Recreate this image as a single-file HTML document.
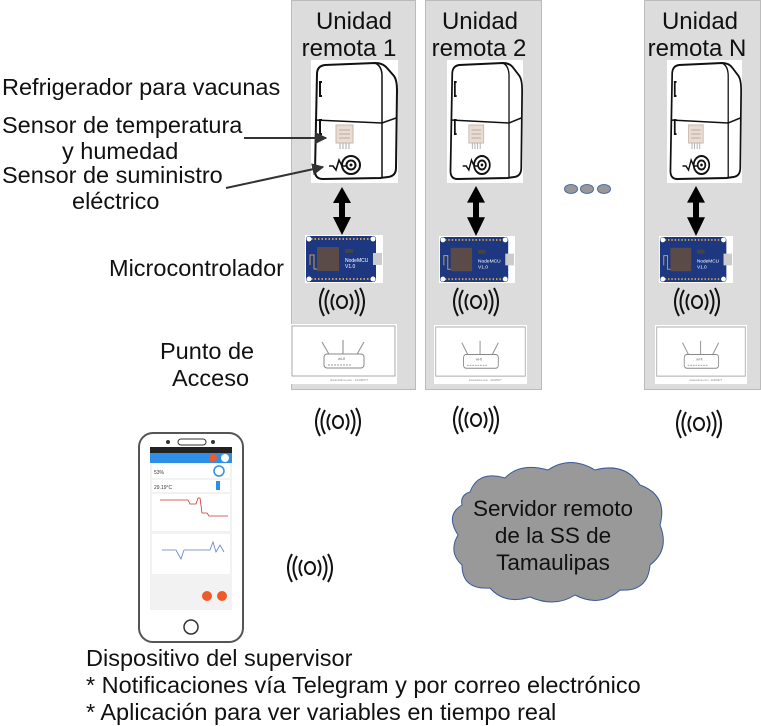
<!DOCTYPE html>
<html><head><meta charset="utf-8"><style>
html,body{margin:0;padding:0;background:#fff}
svg{display:block}
text{font-family:"Liberation Sans",sans-serif}
</style></head><body>
<svg width="761" height="726" viewBox="0 0 761 726" xmlns="http://www.w3.org/2000/svg">
<defs>
<symbol id="fridge" viewBox="0 0 87 123" preserveAspectRatio="none">
<rect width="87" height="123" fill="#fff"/>
<path d="M6 14 Q6 6 14 5 L64 3 Q72 3 76 8 L83 16 Q86 20 86 30 L85 108 Q85 116 77 117 L69 118 L12 119 Q4 119 4 111 Z" fill="#fff" stroke="#111" stroke-width="2"/>
<path d="M64 3 Q71 6 71 16 L71 118" fill="none" stroke="#111" stroke-width="1.5"/>
<path d="M4 60 L71 63 L85 58" fill="none" stroke="#111" stroke-width="1.5"/>
<path d="M11 22 L9 22 L9 36 L11 36" fill="none" stroke="#111" stroke-width="2"/>
<path d="M11 60 L9 60 L9 74 L11 74" fill="none" stroke="#111" stroke-width="2"/>
<rect x="25" y="65" width="17" height="18" fill="#e8ddd3" stroke="#c9b8a8"/>
<path d="M28 70h11M28 74h11M28 78h11" stroke="#bfa89a" stroke-width="1"/>
<path d="M29 83v6M32 83v6M35 83v6M38 83v6" stroke="#aaa" stroke-width="1"/>
<circle cx="40" cy="105" r="9" fill="none" stroke="#111" stroke-width="2"/>
<circle cx="40" cy="105" r="4.5" fill="none" stroke="#111" stroke-width="2"/>
<circle cx="40" cy="105" r="1.5" fill="#111"/>
<path d="M18 106 L22 106 L25 110 L28 100 L31 106 L35 106" fill="none" stroke="#111" stroke-width="1.6"/>
</symbol>
<symbol id="board" viewBox="0 0 78 48" preserveAspectRatio="none">
<rect width="78" height="48" fill="#fff"/>
<rect x="1" y="1" width="70" height="46" rx="3" fill="#1d3780"/>
<rect x="68" y="18" width="9" height="12" fill="#ccc"/>
<path d="M6 4h60M6 44h60" stroke="#c8a04a" stroke-width="2" stroke-dasharray="1.5 2"/>
<circle cx="4" cy="4" r="2.5" fill="#fff"/><circle cx="68" cy="4" r="2.5" fill="#fff"/>
<circle cx="4" cy="44" r="2.5" fill="#fff"/><circle cx="68" cy="44" r="2.5" fill="#fff"/>
<rect x="12" y="12" width="22" height="24" fill="#5a4a48"/>
<path d="M5 30v-10h4v14h3" fill="none" stroke="#c8a04a" stroke-width="1"/>
<text x="40" y="27" font-size="5" fill="#fff">NodeMCU</text>
<text x="40" y="33" font-size="5" fill="#fff">V1.0</text>
<rect x="40" y="14" width="8" height="4" fill="#444"/>
</symbol>
<symbol id="router" viewBox="0 0 107 60" preserveAspectRatio="none">
<rect width="107" height="60" fill="#fff"/>
<rect x="2" y="2" width="103" height="50" fill="none" stroke="#aaa"/>
<path d="M40 32 L32 18 M53 32 L53 16 M66 32 L74 18" stroke="#999" stroke-width="1.2"/>
<rect x="34" y="30" width="40" height="14" rx="3" fill="#fff" stroke="#888"/>
<text x="48" y="36" font-size="4" fill="#666">wi-fi</text>
<path d="M38 41h24" stroke="#999" stroke-dasharray="2 1"/>
<text x="40" y="57" font-size="3" fill="#888">dreamstime.com - 12345677</text>
</symbol>
<symbol id="wifi" viewBox="0 0 46 30">
<g fill="none" stroke="#111" stroke-width="2">
<ellipse cx="23" cy="15" rx="5" ry="6"/>
<path d="M15 7 Q10 15 15 23 M31 7 Q36 15 31 23"/>
<path d="M10 3 Q3 15 10 27 M36 3 Q43 15 36 27"/>
<path d="M5 1 Q-3 15 5 29 M41 1 Q49 15 41 29"/>
</g>
</symbol>
<symbol id="darr" viewBox="0 0 20 48" preserveAspectRatio="none">
<path d="M10 0 L19 16 L13 16 L13 30 L19 30 L10 48 L1 30 L7 30 L7 16 L1 16 Z" fill="#000"/>
</symbol>
<marker id="ah" viewBox="0 0 10 10" refX="9" refY="5" markerWidth="6" markerHeight="6" orient="auto"><path d="M0 0L10 5L0 10Z" fill="#333"/></marker>
</defs>

<rect x="291.5" y="0.5" width="124" height="389" fill="#dcdcdc" stroke="#bbb"/>
<rect x="425.5" y="0.5" width="116" height="389" fill="#dcdcdc" stroke="#bbb"/>
<rect x="644.5" y="0.5" width="116" height="389" fill="#dcdcdc" stroke="#bbb"/>

<g font-size="24" fill="#111" text-anchor="middle">
<text x="354" y="29">Unidad</text><text x="349" y="56">remota 1</text>
<text x="480" y="29">Unidad</text><text x="479" y="56">remota 2</text>
<text x="700" y="29">Unidad</text><text x="697" y="56">remota N</text>
</g>

<use href="#fridge" x="311" y="60" width="87" height="123"/>
<use href="#fridge" x="447" y="60" width="76" height="123"/>
<use href="#fridge" x="667" y="60" width="75" height="123"/>

<use href="#darr" x="332" y="187" width="20" height="48"/>
<use href="#darr" x="466" y="186" width="20" height="50"/>
<use href="#darr" x="686" y="186" width="20" height="50"/>

<use href="#board" x="305" y="235" width="78" height="48"/>
<use href="#board" x="439" y="236" width="76" height="47"/>
<use href="#board" x="659" y="236" width="74" height="47"/>

<use href="#wifi" x="319" y="287" width="46" height="30"/>
<use href="#wifi" x="453" y="287" width="46" height="30"/>
<use href="#wifi" x="674" y="287" width="46" height="30"/>

<use href="#router" x="290" y="324" width="107" height="60"/>
<use href="#router" x="434" y="325" width="93" height="59"/>
<use href="#router" x="655" y="325" width="92" height="59"/>

<use href="#wifi" x="315" y="407" width="46" height="30"/>
<use href="#wifi" x="453" y="405" width="46" height="30"/>
<use href="#wifi" x="676" y="409" width="46" height="30"/>
<use href="#wifi" x="287" y="553" width="46" height="30"/>

<g fill="#999" stroke="#4a6aa8" stroke-width="1">
<ellipse cx="571" cy="189" rx="6.5" ry="4.5"/><ellipse cx="587" cy="189" rx="6.5" ry="4.5"/><ellipse cx="604" cy="189" rx="6.5" ry="4.5"/>
</g>

<g font-size="23.5" fill="#111">
<text x="2" y="95">Refrigerador para vacunas</text>
<text x="2" y="133">Sensor de temperatura</text>
<text x="62" y="159">y humedad</text>
<text x="2" y="183">Sensor de suministro</text>
<text x="72" y="209">eléctrico</text>
<text x="109" y="276">Microcontrolador</text>
<text x="160" y="359">Punto de</text>
<text x="172" y="386">Acceso</text>
<text x="86" y="666">Dispositivo del supervisor</text>
<text x="86" y="693">* Notificaciones vía Telegram y por correo electrónico</text>
<text x="86" y="720">* Aplicación para ver variables en tiempo real</text>
</g>
<line x1="244" y1="138" x2="326" y2="138" stroke="#333" stroke-width="2" marker-end="url(#ah)"/>
<line x1="226" y1="188" x2="323" y2="167" stroke="#333" stroke-width="2" marker-end="url(#ah)"/>

<path d="M470 492 Q478 470 505 478 Q520 462 548 470 Q570 455 595 470 Q625 462 640 485 Q668 495 660 525 Q670 550 650 565 Q648 592 620 590 Q600 608 575 595 Q555 608 530 597 Q505 605 490 588 Q462 590 462 565 Q448 552 458 535 Q445 515 462 505 Q460 495 470 492 Z" fill="#999" stroke="#3a5a9a" stroke-width="1"/>
<g font-size="22.5" fill="#111" text-anchor="middle">
<text x="553" y="516">Servidor remoto</text>
<text x="553" y="543">de la SS de</text>
<text x="553" y="570">Tamaulipas</text>
</g>

<rect x="139" y="433" width="104" height="209" rx="14" fill="#fff" stroke="#555" stroke-width="2"/>
<circle cx="168" cy="442" r="2" fill="#333"/><rect x="178" y="439" width="28" height="6" rx="3" fill="none" stroke="#333"/><circle cx="213" cy="442" r="2" fill="#333"/>
<rect x="150" y="447" width="82" height="163" fill="#f2f2f2"/>
<rect x="150" y="447" width="82" height="6" fill="#222"/>
<rect x="150" y="453" width="82" height="10" fill="#2f8fe6"/>
<circle cx="213" cy="458" r="4" fill="#f05a28"/><circle cx="225" cy="458" r="4" fill="#fff"/>
<rect x="152" y="464" width="78" height="14" fill="#fff"/>
<circle cx="219" cy="471" r="5" fill="none" stroke="#2f8fe6" stroke-width="1.5"/>
<text x="154" y="474" font-size="5" fill="#333">53%</text>
<rect x="152" y="480" width="78" height="12" fill="#fff"/>
<text x="154" y="489" font-size="5" fill="#333">29.19°C</text>
<rect x="216" y="481" width="4" height="9" fill="#2f8fe6"/>
<rect x="152" y="494" width="78" height="37" fill="#fff"/>
<path d="M160 500 L188 500 L190 504 L196 504 L198 498 L200 498 L202 513 L207 513 L209 516 L228 516" fill="none" stroke="#c33" stroke-width="0.8"/>
<rect x="152" y="534" width="78" height="40" fill="#fff"/>
<path d="M162 550 L176 550 L181 559 L184 550 L210 550 L213 542 L216 552 L220 545 L224 552" fill="none" stroke="#5b7fc4" stroke-width="0.8"/>
<circle cx="207" cy="596" r="5" fill="#f05a28"/><circle cx="222" cy="596" r="5" fill="#f05a28"/>
<circle cx="191" cy="627" r="7" fill="none" stroke="#333" stroke-width="1.5"/>
</svg>
</body></html>
